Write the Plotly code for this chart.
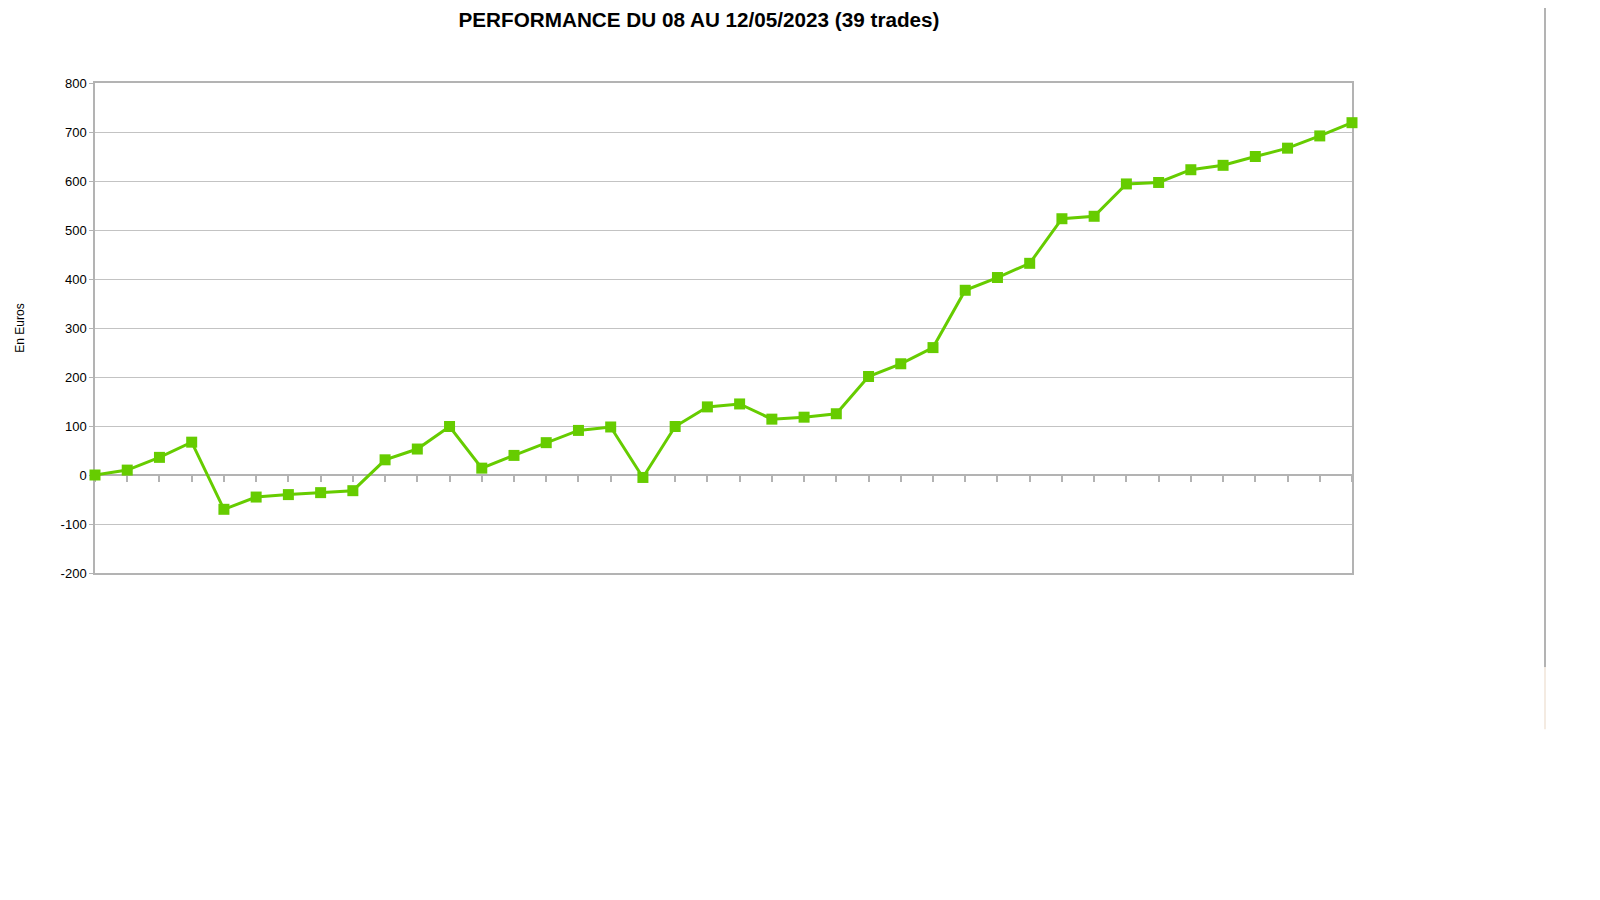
import plotly.graph_objects as go

# ---- data ----
trades = list(range(0, 40))  # start point + 39 trades
cumul_euros = [0, 10, 36, 67, -70, -45, -40, -36, -32, 31, 53, 99, 14, 40, 66, 91, 98, -5, 99,
               139, 145, 114, 118, 125, 201, 227, 260, 377, 403, 432, 523, 528, 594, 597,
               623, 632, 650, 667, 692, 719]
y_tick_vals = [-200, -100, 0, 100, 200, 300, 400, 500, 600, 700, 800]
y_tick_text = ["-200", "-100", "0", "100", "200", "300", "400", "500", "600", "700", "800"]
title_text = "PERFORMANCE DU 08 AU 12/05/2023 (39 trades)"
y_title = "En Euros"

GREEN = "#66cc00"
GRID = "#c3c3c3"
AXIS = "#b3b3b3"
FONT = "Liberation Sans, Arial, sans-serif"

y_min, y_max = y_tick_vals[0], y_tick_vals[-1]
x_min, x_max = trades[0], trades[-1]

fig = go.Figure()
fig.add_trace(go.Scatter(
    x=trades, y=cumul_euros, mode="lines+markers",
    line=dict(color=GREEN, width=3),
    marker=dict(symbol="square", size=11, color=GREEN),
    showlegend=False, hoverinfo="x+y", cliponaxis=False,
))
# invisible trace to carry the category axis drawn at y = 0
fig.add_trace(go.Scatter(
    x=trades, y=cumul_euros, xaxis="x2", mode="markers",
    marker=dict(opacity=0), showlegend=False, hoverinfo="skip",
))

fig.update_layout(
    width=1600, height=900,
    paper_bgcolor="white", plot_bgcolor="white",
    margin=dict(l=87, r=256, t=75, b=335, autoexpand=False),
    font=dict(family=FONT, color="black", size=13),
    title=dict(text=f"<b>{title_text}</b>", x=691 / 1600, xref="container", xanchor="center",
               y=1 - 12 / 900, yref="container", yanchor="middle",
               font=dict(family=FONT, size=20.7, color="black")),
    xaxis=dict(range=[x_min, x_max], showgrid=False, zeroline=False, layer="below traces",
               showline=True, mirror=True, linecolor=AXIS, linewidth=1.5,
               showticklabels=False, ticks=""),
    xaxis2=dict(range=[x_min, x_max], overlaying="x", anchor="free", layer="below traces",
                position=(0 - y_min) / (y_max - y_min),
                showgrid=False, zeroline=False, showline=True, linecolor=AXIS, linewidth=1.5,
                ticks="outside", ticklen=6, tickcolor=AXIS, tickwidth=1.5,
                tickmode="linear", tick0=0, dtick=1, showticklabels=False),
    yaxis=dict(range=[y_min, y_max], tickvals=y_tick_vals, ticktext=y_tick_text,
               layer="below traces",
               showgrid=True, gridcolor=GRID, gridwidth=1,
               zeroline=False, showline=True, mirror=True, linecolor=AXIS, linewidth=1.5,
               ticks="outside", ticklen=4, tickcolor=AXIS,
               tickfont=dict(family=FONT, size=13, color="black"),
               title=dict(text=y_title, standoff=33,
                          font=dict(family=FONT, size=12, color="black"))),
)

# page edge line seen at the right of the reference
fig.add_shape(type="line", xref="paper", yref="paper",
              x0=(1545 - 95) / 1257, x1=(1545 - 95) / 1257,
              y0=(573.5 + 10) / 491, y1=(573.5 - 668) / 491,
              line=dict(color="#9a9a9a", width=1.5))
fig.add_shape(type="line", xref="paper", yref="paper",
              x0=(1545 - 95) / 1257, x1=(1545 - 95) / 1257,
              y0=(573.5 - 668) / 491, y1=(573.5 - 730) / 491,
              line=dict(color="#f0e4d8", width=1.5))

fig.write_html("out.html")
